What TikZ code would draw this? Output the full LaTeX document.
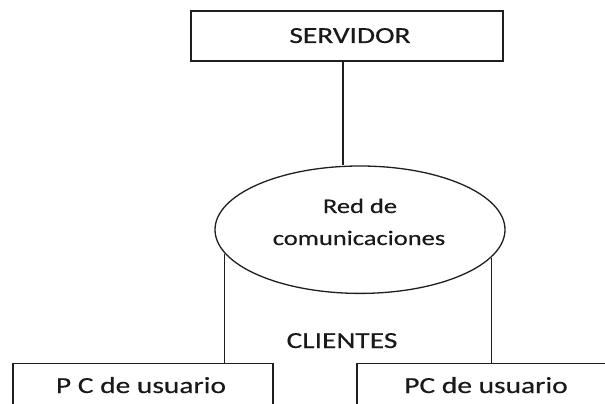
\documentclass[tikz,border=0pt]{standalone}
\usepackage{fontspec}
\setmainfont[FakeStretch=1.28,FakeBold=0.4]{Carlito}
\usetikzlibrary{shapes.geometric}
\tikzset{
  ln/.style={draw=black!88, line width=1.3pt},
  boxnode/.style={ln, rectangle, inner sep=0pt},
  txt/.style={anchor=base, inner sep=0pt, text=black!90, font=\fontsize{23}{26}\selectfont},
  stxt/.style={anchor=base, inner sep=0pt, text=black!90, font=\fontsize{20.7}{24}\selectfont},
}
\begin{document}
\begin{tikzpicture}[x=1pt,y=-1pt]
\useasboundingbox (0,0) rectangle (605,404);
% server
\node[boxnode, minimum width=312pt, minimum height=50pt] (server) at (347,36) {};
\node[txt] (servertxt) at (350,43) {SERVIDOR};
% network ellipse
\node[ln, ellipse, minimum width=290pt, minimum height=127.4pt, inner sep=0pt] (net) at (360,229.7) {};
\node[stxt] (nettxt1) at (360,213) {Red de};
\node[stxt] (nettxt2) at (359,245) {comunicaciones};
% clients
\node[txt] (clientes) at (342,348) {CLIENTES};
\node[boxnode, minimum width=260pt, minimum height=60pt, anchor=north] (pc1) at (143,363) {};
\node[boxnode, minimum width=260pt, minimum height=60pt, anchor=north] (pc2) at (487,363) {};
\node[txt] (pc1txt) at (141,393) {P C de usuario};
\node[txt] (pc2txt) at (486,393) {PC de usuario};
% connectors
\draw[ln] ([xshift=-4pt]server.south) -- ([xshift=-4pt]server.south |- net.north);
\draw[ln] (net.190.6) -- (net.190.6 |- pc1.north);
\draw[ln] (net.348.3) -- (net.348.3 |- pc2.north);
\end{tikzpicture}
\end{document}
